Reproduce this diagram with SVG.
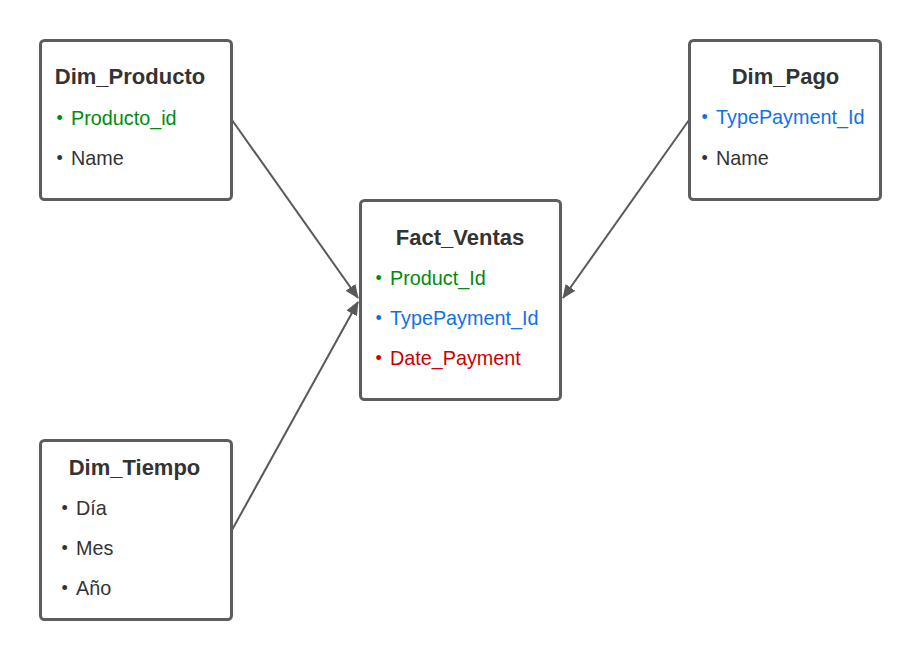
<svg xmlns="http://www.w3.org/2000/svg" width="921" height="660" viewBox="0 0 921 660">
<style>
.box{fill:#ffffff;stroke:#5e5e5e;stroke-width:3}
.title{font-family:"Liberation Sans",Arial,sans-serif;font-size:22px;font-weight:bold;fill:#333333;text-anchor:middle}
.item{font-family:"Liberation Sans",Arial,sans-serif;font-size:19.8px;fill:#333333}
.bul{font-family:"Liberation Sans",Arial,sans-serif;font-size:18px;fill:#333333}
.g{fill:#008a0e}.b{fill:#1071e5}.r{fill:#cc0000}
.conn{stroke:#595959;stroke-width:2;fill:none;marker-end:url(#arrow)}
</style>
<defs>
<marker id="arrow" viewBox="0 0 14 12" refX="13" refY="6" markerWidth="14" markerHeight="12" markerUnits="userSpaceOnUse" orient="auto">
<path d="M0,0 L14,6 L0,12 Z" fill="#595959"/>
</marker>
</defs>
<rect width="921" height="660" fill="#ffffff"/>
<g id="connectors">
<line class="conn" x1="232" y1="120" x2="358" y2="298"/>
<line class="conn" x1="689" y1="120" x2="563" y2="298"/>
<line class="conn" x1="232" y1="530" x2="358" y2="302"/>
</g>
<g id="dim_producto">
<rect class="box" x="40.5" y="40.5" width="191" height="159" rx="4"/>
<text class="title" x="130" y="84">Dim_Producto</text>
<text class="bul g" x="56.5" y="124">•</text><text class="item g" x="71" y="125">Producto_id</text>
<text class="bul" x="56.5" y="164">•</text><text class="item" x="71" y="165">Name</text>
</g>
<g id="fact_ventas">
<rect class="box" x="360.5" y="200.5" width="200" height="199" rx="4"/>
<text class="title" x="460" y="245">Fact_Ventas</text>
<text class="bul g" x="375.5" y="284">•</text><text class="item g" x="390" y="285">Product_Id</text>
<text class="bul b" x="375.5" y="324">•</text><text class="item b" x="390" y="325">TypePayment_Id</text>
<text class="bul r" x="375.5" y="364">•</text><text class="item r" x="390" y="365">Date_Payment</text>
</g>
<g id="dim_pago">
<rect class="box" x="689.5" y="40.5" width="191" height="159" rx="4"/>
<text class="title" x="785.5" y="84">Dim_Pago</text>
<text class="bul b" x="701.5" y="123">•</text><text class="item b" x="716" y="124">TypePayment_Id</text>
<text class="bul" x="701.5" y="164">•</text><text class="item" x="716" y="165">Name</text>
</g>
<g id="dim_tiempo">
<rect class="box" x="40.5" y="440.5" width="191" height="179" rx="4"/>
<text class="title" x="134.5" y="475">Dim_Tiempo</text>
<text class="bul" x="61.5" y="514">•</text><text class="item" x="76" y="515">Día</text>
<text class="bul" x="61.5" y="554">•</text><text class="item" x="76" y="555">Mes</text>
<text class="bul" x="61.5" y="594">•</text><text class="item" x="76" y="595">Año</text>
</g>
</svg>
